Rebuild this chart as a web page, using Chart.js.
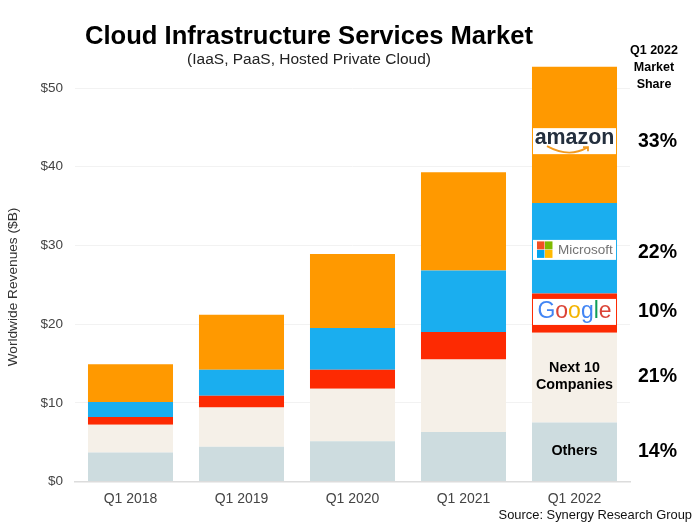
<!DOCTYPE html>
<html>
<head>
<meta charset="utf-8">
<style>
  html, body { margin: 0; padding: 0; background: #fff; }
  canvas { display: block; }
</style>
<script src="https://cdn.jsdelivr.net/npm/chart.js@4"></script>
</head>
<body>
<canvas id="cloudChart" width="697" height="532"></canvas>
<script>
const quarters = ['Q1 2018', 'Q1 2019', 'Q1 2020', 'Q1 2021', 'Q1 2022'];

// revenue per segment in $B
const others = [3.7, 4.4, 5.1, 6.3, 7.5];
const next10 = [3.5, 5.0, 6.7, 9.2, 11.4];
const google = [1.0, 1.5, 2.4, 3.5, 5.0];
const microsoft = [1.9, 3.3, 5.3, 7.8, 11.5];
const amazon = [4.8, 7.0, 9.4, 12.5, 17.3];

const yTicks = [0, 10, 20, 30, 40, 50];
const shareHeader = ['Q1 2022', 'Market', 'Share'];
const shares = ['33%', '22%', '10%', '21%', '14%'];

const FONT = '"Liberation Sans", Arial, sans-serif';

function text(ctx, str, x, y, font, color, align) {
  ctx.font = font + ' ' + FONT;
  ctx.fillStyle = color || '#000';
  ctx.textAlign = align || 'center';
  ctx.textBaseline = 'middle';
  ctx.fillText(str, x, y);
}

function drawAmazonLogo(ctx, left, w, top) {
  ctx.fillStyle = '#fff';
  ctx.fillRect(left, top, w, 26);
  text(ctx, 'amazon', left + w / 2, top + 9.5, 'bold 21.4px', '#232f3e');
  ctx.strokeStyle = '#f29a1f';
  ctx.lineWidth = 1.8;
  ctx.beginPath();
  ctx.moveTo(left + 14, top + 18);
  ctx.quadraticCurveTo(left + 36, top + 30, left + 54, top + 19.5);
  ctx.moveTo(left + 50, top + 19);
  ctx.lineTo(left + 55, top + 19);
  ctx.lineTo(left + 55, top + 23);
  ctx.stroke();
}

function drawMicrosoftLogo(ctx, left, w, top) {
  ctx.fillStyle = '#fff';
  ctx.fillRect(left, top, w, 20);
  ctx.fillStyle = '#f25022'; ctx.fillRect(left + 4, top + 1.5, 7.5, 8);
  ctx.fillStyle = '#7fba00'; ctx.fillRect(left + 12, top + 1.5, 7.5, 8);
  ctx.fillStyle = '#00a4ef'; ctx.fillRect(left + 4, top + 10, 7.5, 8);
  ctx.fillStyle = '#ffb900'; ctx.fillRect(left + 12, top + 10, 7.5, 8);
  text(ctx, 'Microsoft', left + 25, top + 10.5, '13.5px', '#737373', 'left');
}

function drawGoogleLogo(ctx, left, w, top) {
  ctx.fillStyle = '#fff';
  ctx.fillRect(left + 1, top, w - 2, 26);
  const letters = ['G', 'o', 'o', 'g', 'l', 'e'];
  const colors = ['#4285f4', '#db4437', '#f4b400', '#4285f4', '#0f9d58', '#db4437'];
  ctx.font = '23px ' + FONT;
  let x = left + w / 2 - ctx.measureText('Google').width / 2;
  letters.forEach((l, i) => {
    ctx.font = '23px ' + FONT;
    const lw = ctx.measureText(l).width;
    text(ctx, l, x, top + 12.5, '23px', colors[i], 'left');
    x += lw;
  });
}

const decorations = {
  id: 'decorations',
  afterDatasetsDraw(chart) {
    const ctx = chart.ctx;
    const y = chart.scales.y;
    const bar = chart.getDatasetMeta(4).data[4];
    const left = bar.x - bar.width / 2;

    ctx.save();
    text(ctx, 'Cloud Infrastructure Services Market', 309, 37, 'bold 25.6px');
    text(ctx, '(IaaS, PaaS, Hosted Private Cloud)', 309, 60, '15.5px', '#222');

    shareHeader.forEach((line, i) => text(ctx, line, 654, 50.5 + i * 17, 'bold 12.5px'));

    ctx.save();
    ctx.translate(13, 287);
    ctx.rotate(-Math.PI / 2);
    text(ctx, 'Worldwide Revenues ($B)', 0, 0, '13.7px', '#333');
    ctx.restore();

    drawAmazonLogo(ctx, left + 1, bar.width - 2, y.getPixelForValue(44.9));
    drawMicrosoftLogo(ctx, left + 1, bar.width - 2, y.getPixelForValue(30.7));
    drawGoogleLogo(ctx, left, bar.width, y.getPixelForValue(23.2));

    text(ctx, 'Next 10', bar.x, 368, 'bold 14.3px');
    text(ctx, 'Companies', bar.x, 385, 'bold 14.3px');
    text(ctx, 'Others', bar.x, 451, 'bold 14.3px');

    const shareY = [141.5, 252.5, 311.5, 376.5, 451.5];
    shares.forEach((s, i) => text(ctx, s, 657.5, shareY[i], 'bold 19.5px'));

    text(ctx, 'Source: Synergy Research Group', 692, 515, '12.9px', '#111', 'right');
    ctx.restore();
  }
};

const segments = [
  { label: 'Others', data: others, backgroundColor: '#cddcdf' },
  { label: 'Next 10 Companies', data: next10, backgroundColor: '#f5f0e8' },
  { label: 'Google', data: google, backgroundColor: '#fd2a02' },
  { label: 'Microsoft', data: microsoft, backgroundColor: '#1aaeef' },
  { label: 'Amazon', data: amazon, backgroundColor: '#ff9900' }
];

new Chart(document.getElementById('cloudChart').getContext('2d'), {
  type: 'bar',
  data: {
    labels: quarters,
    datasets: segments.map(s => ({ ...s, stack: 'market', barPercentage: 0.766, categoryPercentage: 1 }))
  },
  plugins: [decorations],
  options: {
    responsive: false,
    animation: false,
    layout: { padding: { top: 64.4, right: 67, left: 0, bottom: 0 } },
    plugins: { legend: { display: false }, title: { display: false }, tooltip: { enabled: false } },
    scales: {
      x: {
        stacked: true,
        afterFit: scale => { scale.height = 50.5; },
        grid: { display: false },
        border: { color: '#dcdcdc', width: 1.5 },
        ticks: { color: '#444', font: { family: FONT, size: 14 }, padding: 1, maxRotation: 0 }
      },
      y: {
        stacked: true,
        min: 0,
        max: 53,
        afterFit: scale => { scale.width = 75; },
        afterBuildTicks: scale => { scale.ticks = yTicks.map(v => ({ value: v })); },
        grid: { color: '#f2f2f2', drawTicks: false },
        border: { display: false },
        ticks: {
          color: '#444',
          font: { family: FONT, size: 13.5 },
          padding: 12,
          callback: v => '$' + v
        }
      }
    }
  }
});
</script>
</body>
</html>
